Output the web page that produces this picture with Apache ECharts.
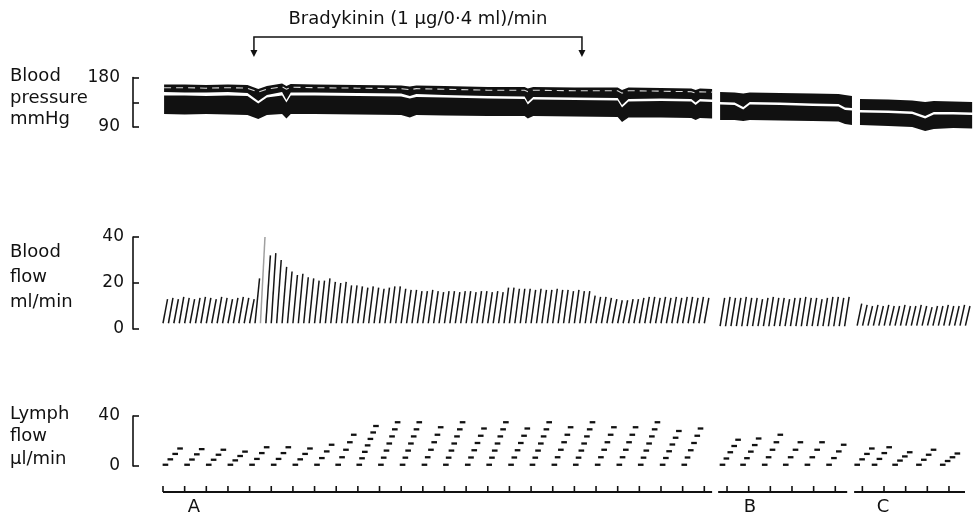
<!DOCTYPE html>
<html><head><meta charset="utf-8">
<script src="https://cdn.jsdelivr.net/npm/echarts@6/dist/echarts.min.js"></script>
<style>html,body{margin:0;padding:0;background:#fff}#c{width:980px;height:519px}</style>
</head><body><div id="c"></div>
<script>
// ================= DATA (time in minutes along the strip) =================
const xMax = 37.41;
const bradykininStart = 4.2, bradykininEnd = 19.35;
const bradykininLabel = 'Bradykinin (1 \u03bcg/0\u00b74 ml)/min';

// Blood pressure (mmHg): three segments A, B, C
const bpTime = [
  [0.05,1,2,3,3.9,4.4,4.8,5.5,5.7,5.9,7,9,11,11.4,11.7,13,15,16.7,16.85,17.1,19,21,21.2,21.5,23,24.4,24.6,24.8,25.36],
  [25.73,26.4,26.8,27.1,28.5,30,31.2,31.5,31.82],
  [32.19,33.5,34.6,35.2,35.6,36.5,37.37]
];
const bpSys = [
  [167.3,167.3,166.4,167.3,166.4,159.1,164.5,169.1,164.5,168.2,167.3,166.4,165.5,163.6,165.5,164.5,162.7,162.7,160,162.7,161.8,161.8,157.3,161.8,160.9,160,157.3,160,159.1],
  [153.6,152.7,150.9,152.7,151.8,150.9,150,148.2,146.4],
  [140.9,140,138.2,135.5,137.3,136.4,135.5]
];
const bpMidHi = [
  [153.6,152.7,152.7,153.6,151.8,137.3,148.2,153.6,139.1,152.7,152.7,151.8,150.9,146.4,150,148.2,146.4,145.5,135.5,144.5,143.6,142.7,130,140.9,141.8,140.9,134.5,140.9,140],
  [135.5,134.5,126.4,135.5,134.5,132.7,131.8,125.5,124.5],
  [120.9,120,118.2,110,117.3,117.3,116.4]
];
const bpMidLo = [
  [147.3,147.3,146.4,147.3,146.4,132.7,143.6,147.3,134.5,147.3,147.3,146.4,145.5,141.8,144.5,143.6,141.8,140.9,130.9,140,139.1,138.2,125.5,136.4,137.3,136.4,130,136.4,135.5],
  [130.9,130,121.8,130.9,130,128.2,127.3,120.9,120],
  [116.4,115.5,113.6,105.5,112.7,112.7,111.8]
];
const bpDia = [
  [113.6,112.7,113.6,112.7,111.8,104.5,111.8,113.6,105.5,113.6,113.6,112.7,111.8,107.3,111.8,110.9,110,110,105.5,110,109.1,108.2,99.1,107.3,107.3,106.4,102.7,106.4,105.5],
  [102.7,102.7,100.9,102.7,101.8,100.9,100,95.5,93.6],
  [93.6,91.8,90,82.7,86.4,88.2,87.3]
];

// Blood flow (ml/min): one pen stroke per drop-counter reset
const bfStart = [0.0, 25.73, 32.06];
const bfInterval = 0.25;
const bfBase = [2.5, 1.2, 1.5];
const bfPeakA = [13,13.5,13,14,13.5,13,13.5,14,13.5,13,14,13.5,13,13.5,14,13.5,
  13,22,40,32,33,30,27,25,23.5,24,22.5,22,21,21,22,20.5,20,20.5,19,19,
  18.5,18,18.5,18,17.5,18, 18.5,18.5,17.5,17,17,16.5,
  16.5,17,16.5,16,16.5,16.5,16,16.5, 16.5,16,16.5,16.5,16,16.5,16,
  18,18,17.5, 17.5,17.5,17,17.5,17,17,17.5,17,17,16.5,17,16.5,16.5,
  14.5, 14,14,13.5,13,12.5,12.5,13,13,
  13.5,14,14,13.5,14,13.5,14,13.5,14,14,13.5,14,13.5];
const bfPeakB = [13.5,14,13.5,13.5,14,13.5,13.5,13,13.5,14,13.5,13.5,13,13.5,13.5,14,13.5,13.5,13,13.5,14,14,13.5,14];
const bfPeakC = [11,10.5,10,10.5,10,10.5,10,10,10.5,10,10,10.5,10,9.5,10,10,10.5,10,10,10.5,10];

// Lymph flow (ul/min): one staircase per minute
const lymphStart = [0,1,2,3,4,5,6,7,8,9,10,11,12,13,14,15,16,17,18,19,20,21,22,23,24,
  25.75,26.7,27.7,28.65,29.65,30.65, 31.95,32.75,33.7,34.8,35.9];
const lymphTop = [14,13.5,13,11.5,15,15,14,17,25,32,35,35,31,35,30,35,30,35,31,35,31,31,35,28,30,
  21,22,25,19,19,17, 14,15,11,13,10];
const lymphBase = 1;

// Time marker (1 min ticks)
const timeSegStart = [0, 25.64, 31.92];
const timeSegEnd = [25.36, 31.6, 37.04];
const timeFirstTick = [0, 26.05, 32.3];
const timeTickCount = [26, 6, 5];
const sectionLabel = ['A', 'B', 'C'];
const sectionLabelTime = [1.43, 27.11, 33.26];

// ================= CHART =================
const INK = '#111';
const FONT = 'DejaVu Sans';
const chart = echarts.init(document.getElementById('c'));

const gridL = 163, gridW = 810;
const grids = [
  {left: gridL, width: gridW, top: 37, height: 20},   // bracket
  {left: gridL, width: gridW, top: 77.5, height: 49.5}, // BP
  {left: gridL, width: gridW, top: 237, height: 92},  // BF
  {left: gridL, width: gridW, top: 416, height: 50},  // LF
  {left: gridL, width: gridW, top: 480, height: 12}   // time
];
const xAxes = grids.map((g, i) => ({type: 'value', gridIndex: i, min: 0, max: xMax, show: false}));
function panelAxis(i, min, max, interval, hideVals, margin) {
  return {
    type: 'value', gridIndex: i, min, max, interval, position: 'left', offset: 30,
    axisLine: {show: true, onZero: false, lineStyle: {color: INK, width: 1.6}},
    axisTick: {show: true, inside: true, length: 6, lineStyle: {color: INK, width: 1.6}},
    axisLabel: {show: true, color: INK, fontFamily: FONT, fontSize: 17, margin,
      formatter: v => (hideVals.indexOf(v) >= 0 ? '' : String(v))},
    splitLine: {show: false}
  };
}
const yAxes = [
  {type: 'value', gridIndex: 0, min: 0, max: 1, show: false},
  panelAxis(1, 90, 180, 45, [135], 13),
  panelAxis(2, 0, 40, 20, [], 9),
  panelAxis(3, 0, 40, 40, [], 13),
  {type: 'value', gridIndex: 4, min: 0, max: 1, show: false}
];

// series data built from arrays
const bfData = [];
[bfPeakA, bfPeakB, bfPeakC].forEach((arr, s) => arr.forEach((p, i) => bfData.push([bfStart[s] + i * bfInterval, bfBase[s], p])));
const lymphData = lymphStart.map((t, i) => [t, lymphTop[i]]);

function txt(x, y, text, align) {
  return {type: 'text', x, y, style: {text, font: '18px "' + FONT + '"', fill: INK,
    textAlign: align || 'left', textVerticalAlign: 'middle', align: align || 'left', verticalAlign: 'middle'}};
}

const option = {
  animation: false,
  backgroundColor: '#fff',
  grid: grids, xAxis: xAxes, yAxis: yAxes,
  graphic: [
    txt(10, 76, 'Blood'), txt(10, 98, 'pressure'), txt(10, 119, 'mmHg'),
    txt(10, 252, 'Blood'), txt(10, 277, 'flow'), txt(10, 302, 'ml/min'),
    txt(10, 414, 'Lymph'), txt(10, 436, 'flow'), txt(10, 459, '\u03bcl/min')
  ],
  series: [
    { // bradykinin bracket
      type: 'custom', xAxisIndex: 0, yAxisIndex: 0, clip: false,
      data: [[bradykininStart, bradykininEnd]],
      renderItem: (params, api) => {
        const s = api.value(0), e = api.value(1);
        const a = api.coord([s, 1]), b = api.coord([e, 1]);
        const as = api.coord([s, 0.35]), ae = api.coord([e, 0.35]);
        const ts = api.coord([s, 0]), te = api.coord([e, 0]);
        const head = (tip, base) => ({type: 'polygon', shape: {points: [[tip[0], tip[1]], [base[0] - 3.5, base[1]], [base[0] + 3.5, base[1]]]}, style: {fill: INK}});
        return {type: 'group', children: [
          {type: 'polyline', shape: {points: [as, a, b, ae]}, style: {stroke: INK, lineWidth: 1.5, fill: null}},
          head(ts, as), head(te, ae),
          {type: 'text', x: (a[0] + b[0]) / 2, y: a[1] - 18, style: {text: bradykininLabel, font: '18px "' + FONT + '"', fill: INK,
            textAlign: 'center', textVerticalAlign: 'middle', align: 'center', verticalAlign: 'middle'}}
        ]};
      }
    },
    { // blood pressure bands
      type: 'custom', xAxisIndex: 1, yAxisIndex: 1, clip: false,
      data: bpTime.map((T, s) => [T[0], bpSys[s][0]]),
      renderItem: (params, api) => {
        const s = params.dataIndex, T = bpTime[s];
        const poly = (hi, lo) => {
          const pts = [];
          for (let i = 0; i < T.length; i++) pts.push(api.coord([T[i], hi[i]]));
          for (let i = T.length - 1; i >= 0; i--) pts.push(api.coord([T[i], lo[i]]));
          return pts;
        };
        const children = [
          {type: 'polygon', shape: {points: poly(bpSys[s], bpMidHi[s])}, style: {fill: INK}},
          {type: 'polygon', shape: {points: poly(bpMidLo[s], bpDia[s])}, style: {fill: INK}}
        ];
        if (s === 0) { // pale streak inside the systolic band
          const pts = T.map((t, i) => { const p = api.coord([t, bpSys[s][i]]); return [p[0], p[1] + 3.2]; });
          children.push({type: 'polyline', shape: {points: pts}, style: {stroke: '#fff', lineWidth: 1.1, lineDash: [7, 5], fill: null, opacity: 0.85}});
        }
        return {type: 'group', children};
      }
    },
    { // blood flow strokes
      type: 'custom', xAxisIndex: 2, yAxisIndex: 2, clip: false,
      data: bfData,
      renderItem: (params, api) => {
        const t = api.value(0), lo = api.value(1), hi = api.value(2);
        const p0 = api.coord([t, lo]), p1 = api.coord([t + 0.21, hi]);
        return {type: 'line', shape: {x1: p0[0], y1: p0[1], x2: p1[0], y2: p1[1]},
          style: {stroke: hi > 36 ? '#a0a0a0' : '#151515', lineWidth: 1.5}};
      }
    },
    { // lymph flow staircases
      type: 'custom', xAxisIndex: 3, yAxisIndex: 3, clip: false,
      data: lymphData,
      renderItem: (params, api) => {
        const t = api.value(0), top = api.value(1);
        const n = Math.max(4, Math.round((top - lymphBase) / 5.5) + 1);
        const span = 0.9, half = 0.13;
        const children = [];
        for (let i = 0; i < n; i++) {
          const v = lymphBase + (top - lymphBase) * i / (n - 1);
          const xc = t + span * (i + 0.5) / n;
          const a = api.coord([xc - half, v]), b = api.coord([xc + half, v]);
          children.push({type: 'line', shape: {x1: a[0], y1: a[1], x2: b[0], y2: b[1]}, style: {stroke: INK, lineWidth: 2.3}});
        }
        return {type: 'group', children};
      }
    },
    { // time marker
      type: 'custom', xAxisIndex: 4, yAxisIndex: 4, clip: false,
      data: timeSegStart.map((s, i) => [s, timeSegEnd[i]]),
      renderItem: (params, api) => {
        const i = params.dataIndex;
        const a = api.coord([api.value(0), 0]), b = api.coord([api.value(1), 0]);
        const children = [{type: 'line', shape: {x1: a[0], y1: a[1], x2: b[0], y2: b[1]}, style: {stroke: INK, lineWidth: 2}}];
        for (let k = 0; k < timeTickCount[i]; k++) {
          const p0 = api.coord([timeFirstTick[i] + k, 0]), p1 = api.coord([timeFirstTick[i] + k, 0.5]);
          children.push({type: 'line', shape: {x1: p0[0], y1: p0[1], x2: p1[0], y2: p1[1]}, style: {stroke: INK, lineWidth: 1.6}});
        }
        const lp = api.coord([sectionLabelTime[i], 0]);
        children.push({type: 'text', x: lp[0], y: lp[1] + 15, style: {text: sectionLabel[i], font: '18px "' + FONT + '"', fill: INK,
          textAlign: 'center', textVerticalAlign: 'middle', align: 'center', verticalAlign: 'middle'}});
        return {type: 'group', children};
      }
    }
  ]
};
chart.setOption(option);
</script>
</body></html>
